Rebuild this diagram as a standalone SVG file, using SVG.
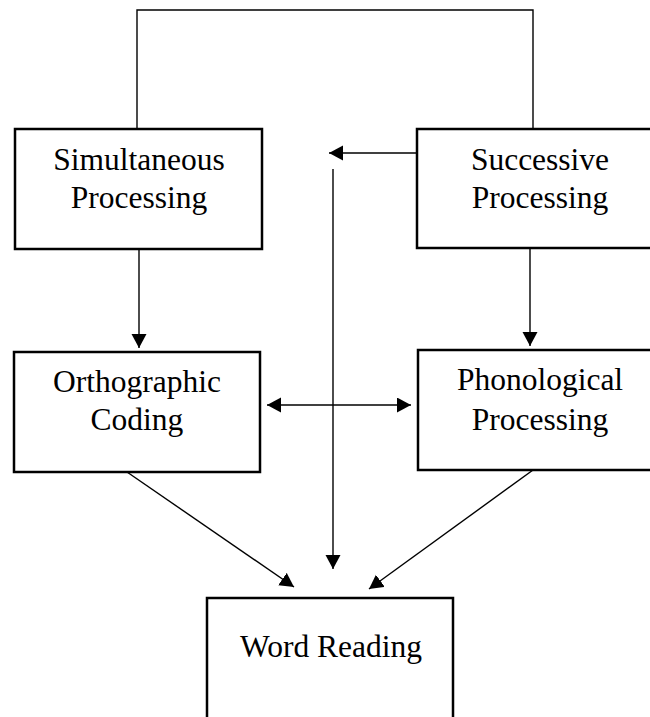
<svg xmlns="http://www.w3.org/2000/svg" width="650" height="717" viewBox="0 0 650 717">
<style>
.box{fill:#fff;stroke:#000;stroke-width:2.5}
.lbl{font-family:"Liberation Serif","Times New Roman",serif;font-size:31.5px;fill:#000;text-anchor:middle}
.ln{fill:none;stroke:#000;stroke-width:1.4}
</style>
<defs>
<marker id="ah" markerUnits="userSpaceOnUse" markerWidth="15" markerHeight="16" refX="14" refY="7.5" orient="auto-start-reverse" viewBox="0 0 15 16">
<path d="M0,0 L14,7.5 L0,15 z" fill="#000"/>
</marker>
</defs>
<rect width="650" height="717" fill="#fff"/>
<g id="connectors">
<polyline class="ln" points="137,129 137,10 533,10 533,129"/>
<line class="ln" x1="417" y1="153" x2="329" y2="153" marker-end="url(#ah)"/>
<line class="ln" x1="333" y1="169" x2="333" y2="569" marker-end="url(#ah)"/>
<line class="ln" x1="139" y1="249" x2="139" y2="348" marker-end="url(#ah)"/>
<line class="ln" x1="530" y1="248" x2="530" y2="346" marker-end="url(#ah)"/>
<line class="ln" x1="267" y1="405" x2="411" y2="405" marker-start="url(#ah)" marker-end="url(#ah)"/>
<line class="ln" x1="127" y1="472" x2="294" y2="587" marker-end="url(#ah)"/>
<line class="ln" x1="533" y1="470" x2="369" y2="589" marker-end="url(#ah)"/>
</g>
<g id="simultaneous">
<rect class="box" x="15" y="129" width="247" height="120"/>
<text class="lbl" x="139" y="170">Simultaneous</text>
<text class="lbl" x="139" y="208">Processing</text>
</g>
<g id="successive">
<rect class="box" x="417" y="129" width="290" height="119"/>
<text class="lbl" x="540" y="170">Successive</text>
<text class="lbl" x="540" y="208">Processing</text>
</g>
<g id="orthographic">
<rect class="box" x="14" y="352" width="246" height="120"/>
<text class="lbl" x="137" y="392">Orthographic</text>
<text class="lbl" x="137" y="430">Coding</text>
</g>
<g id="phonological">
<rect class="box" x="418" y="350" width="290" height="120"/>
<text class="lbl" x="540" y="390">Phonological</text>
<text class="lbl" x="540" y="430">Processing</text>
</g>
<g id="word-reading">
<rect class="box" x="207" y="598" width="246" height="140"/>
<text class="lbl" x="331" y="657">Word Reading</text>
</g>
</svg>
